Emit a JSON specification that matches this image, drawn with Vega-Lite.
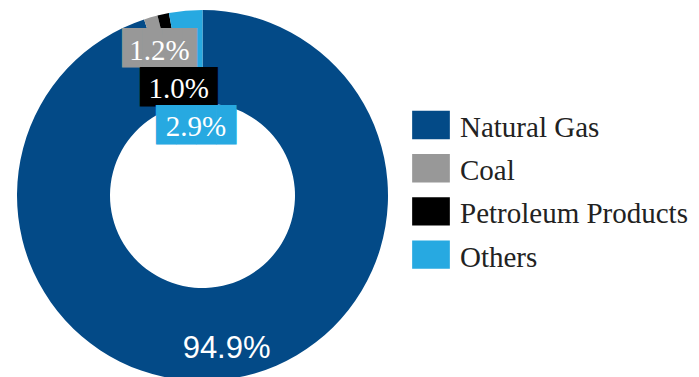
{
  "$schema": "https://vega.github.io/schema/vega-lite/v6.json",
  "width": 405,
  "height": 391,
  "padding": 0,
  "autosize": {"type": "pad"},
  "background": "white",
  "config": {"view": {"stroke": null}},
  "data": {
    "values": [
      {"source": "Natural Gas", "share": 0.949, "rank": 1},
      {"source": "Coal", "share": 0.012, "rank": 2},
      {"source": "Petroleum Products", "share": 0.010, "rank": 3},
      {"source": "Others", "share": 0.029, "rank": 4}
    ]
  },
  "encoding": {
    "theta": {"field": "share", "type": "quantitative", "stack": true},
    "order": {"field": "rank", "type": "quantitative"}
  },
  "layer": [
    {
      "mark": {"type": "arc", "innerRadius": 92.5, "outerRadius": 185.5},
      "encoding": {
        "color": {
          "field": "source",
          "type": "nominal",
          "scale": {
            "domain": ["Natural Gas", "Coal", "Petroleum Products", "Others"],
            "range": ["#034a87", "#989898", "#000000", "#27a9e1"]
          },
          "legend": {
            "title": null,
            "orient": "none",
            "legendX": 412,
            "legendY": 109,
            "padding": 0,
            "symbolType": "M-1,-0.913H1V0.593H-1Z",
            "symbolSize": 1421,
            "symbolStrokeWidth": 0,
            "symbolOpacity": 1,
            "labelFont": "Liberation Serif",
            "labelFontSize": 29,
            "labelColor": "#222222",
            "labelOffset": 10,
            "labelLimit": 400,
            "rowPadding": 9.2
          }
        }
      }
    },
    {
      "mark": {"type": "text", "radius": 151, "font": "Liberation Sans", "fontSize": 31, "fill": "#ffffff", "align": "center", "baseline": "alphabetic", "dy": 13},
      "encoding": {
        "detail": {"field": "source"},
        "text": {"condition": {"test": "datum.source === 'Natural Gas'", "field": "share", "format": ".1%"}, "value": ""}
      }
    },
    {
      "mark": {"type": "text", "radius": 154, "font": "DejaVu Sans Mono", "fontSize": 33.25, "fill": "#989898", "align": "left", "baseline": "alphabetic", "dx": -37.5, "dy": 11.5},
      "encoding": {
        "detail": {"field": "source"},
        "text": {"condition": {"test": "datum.source === 'Coal'", "value": "███▊"}, "value": ""}
      }
    },
    {
      "mark": {"type": "text", "radius": 112, "font": "DejaVu Sans Mono", "fontSize": 33.25, "fill": "#000000", "align": "left", "baseline": "alphabetic", "dx": -38.75, "dy": 11.5},
      "encoding": {
        "detail": {"field": "source"},
        "text": {"condition": {"test": "datum.source === 'Petroleum Products'", "value": "███▉"}, "value": ""}
      }
    },
    {
      "mark": {"type": "text", "radius": 71, "font": "DejaVu Sans Mono", "fontSize": 33.25, "fill": "#27a9e1", "align": "left", "baseline": "alphabetic", "dx": -40, "dy": 11.5},
      "encoding": {
        "detail": {"field": "source"},
        "text": {"condition": {"test": "datum.source === 'Others'", "value": "████"}, "value": ""}
      }
    },
    {
      "mark": {"type": "text", "radius": 154, "font": "Liberation Serif", "fontSize": 29, "fill": "#ffffff", "align": "center", "baseline": "alphabetic", "dy": 12},
      "encoding": {
        "detail": {"field": "source"},
        "text": {"condition": {"test": "datum.source === 'Coal'", "field": "share", "format": ".1%"}, "value": ""}
      }
    },
    {
      "mark": {"type": "text", "radius": 112, "font": "Liberation Serif", "fontSize": 29, "fill": "#ffffff", "align": "center", "baseline": "alphabetic", "dy": 11.5},
      "encoding": {
        "detail": {"field": "source"},
        "text": {"condition": {"test": "datum.source === 'Petroleum Products'", "field": "share", "format": ".1%"}, "value": ""}
      }
    },
    {
      "mark": {"type": "text", "radius": 71, "font": "Liberation Serif", "fontSize": 29, "fill": "#ffffff", "align": "center", "baseline": "alphabetic", "dy": 11},
      "encoding": {
        "detail": {"field": "source"},
        "text": {"condition": {"test": "datum.source === 'Others'", "field": "share", "format": ".1%"}, "value": ""}
      }
    }
  ]
}
